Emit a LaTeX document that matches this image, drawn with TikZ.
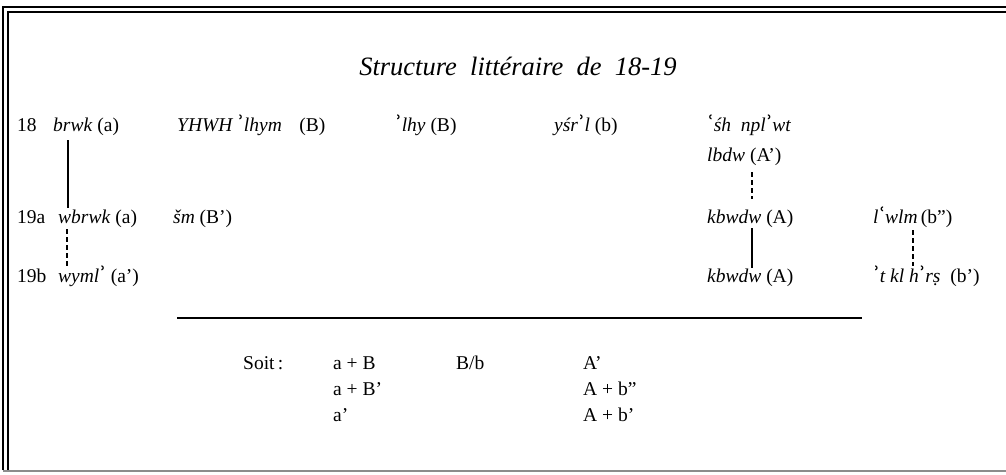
\documentclass[tikz,border=0pt]{standalone}
\usepackage{fontspec}
\setmainfont{Liberation Serif}
\newfontfamily\modf{DejaVu Serif}
\newcommand{\alp}{\raisebox{3pt}{\modf\upshape\bfseries\fontsize{18}{18}\selectfont ʾ}}
\newcommand{\ayn}{\raisebox{3pt}{\modf\upshape\bfseries\fontsize{18}{18}\selectfont ʿ}}
\begin{document}
\begin{tikzpicture}[x=1pt,y=-1pt,
  lbl/.style={anchor=base west,inner sep=0pt,font=\fontsize{19.5}{21}\selectfont},
  ttl/.style={anchor=base,inner sep=0pt,font=\fontsize{26.5}{28}\selectfont\itshape},
  solidlink/.style={line width=1.6pt},
  dashlink/.style={line width=1.8pt,dash pattern=on 5pt off 3pt},
  frame/.style={line width=1.8pt}]
\useasboundingbox (0,0) rectangle (1006,474);
% frame
\draw[frame] (3,470) -- (3,7) -- (1006,7);
\draw[line width=1.3pt] (8,470) -- (8,12) -- (1006,12);
\draw[line width=1.2pt,black!45] (3,471) -- (1006,471);
% title
\node[ttl] (title) at (518,75) {Structure\ \ littéraire\ \ de\ \ 18-19};
% row 18
\node[lbl] (n18) at (17,131) {18};
\node[lbl] (r18a) at (53,131) {\textit{brwk} (a)};
\node[lbl] (r18b) at (177,131) {\textit{YHWH \alp lhym}\hspace{0.9em}(B)};
\node[lbl] (r18c) at (395,131) {\textit{\alp lhy} (B)};
\node[lbl] (r18d) at (554,131) {\textit{yśr\alp l} (b)};
\node[lbl] (r18e) at (707,131) {\textit{\ayn śh\ \ npl\alp wt}};
\node[lbl] (r18f) at (707,161) {\textit{lbdw} (A’)};
% row 19a
\node[lbl] (n19a) at (17,223) {19a};
\node[lbl] (r19a) at (58,223) {\textit{wbrwk} (a)};
\node[lbl] (r19b) at (173,223) {\textit{šm} (B’)};
\node[lbl] (r19c) at (707,223) {\textit{kbwdw}\ (A)};
\node[lbl] (r19d) at (873,223) {\textit{l\ayn wlm}\,(b”)};
% row 19b
\node[lbl] (n19b) at (17,282) {19b};
\node[lbl] (r19e) at (58,282) {\textit{wyml\alp}\ (a’)};
\node[lbl] (r19f) at (707,282) {\textit{kbwdw}\ (A)};
\node[lbl] (r19g) at (873,282) {\textit{\alp t kl h\alp r\d{s}}\ \ (b’)};
% link endpoints
\coordinate (s1a) at (68,140);  \coordinate (s1b) at (68,208);
\coordinate (d1a) at (67,229);  \coordinate (d1b) at (67,266);
\coordinate (d2a) at (752,172); \coordinate (d2b) at (752,199);
\coordinate (s2a) at (752,228); \coordinate (s2b) at (752,268);
\coordinate (d3a) at (913,230); \coordinate (d3b) at (913,266);
\draw[solidlink] (s1a) -- (s1b);
\draw[dashlink] (d1a) -- (d1b);
\draw[dashlink] (d2a) -- (d2b);
\draw[solidlink] (s2a) -- (s2b);
\draw[dashlink] (d3a) -- (d3b);
% rule
\coordinate (ruleL) at (177,318); \coordinate (ruleR) at (862,318);
\draw[line width=1.1pt] (ruleL) -- (ruleR);
% summary
\node[lbl] (soit) at (243,369) {Soit\,:};
\node[lbl] (s11) at (333,369) {a + B};
\node[lbl] (s12) at (456,369) {B/b};
\node[lbl] (s13) at (583,369) {A’};
\node[lbl] (s21) at (333,395) {a + B’};
\node[lbl] (s23) at (583,395) {A + b”};
\node[lbl] (s31) at (333,421) {a’};
\node[lbl] (s33) at (583,421) {A + b’};
\end{tikzpicture}
\end{document}
